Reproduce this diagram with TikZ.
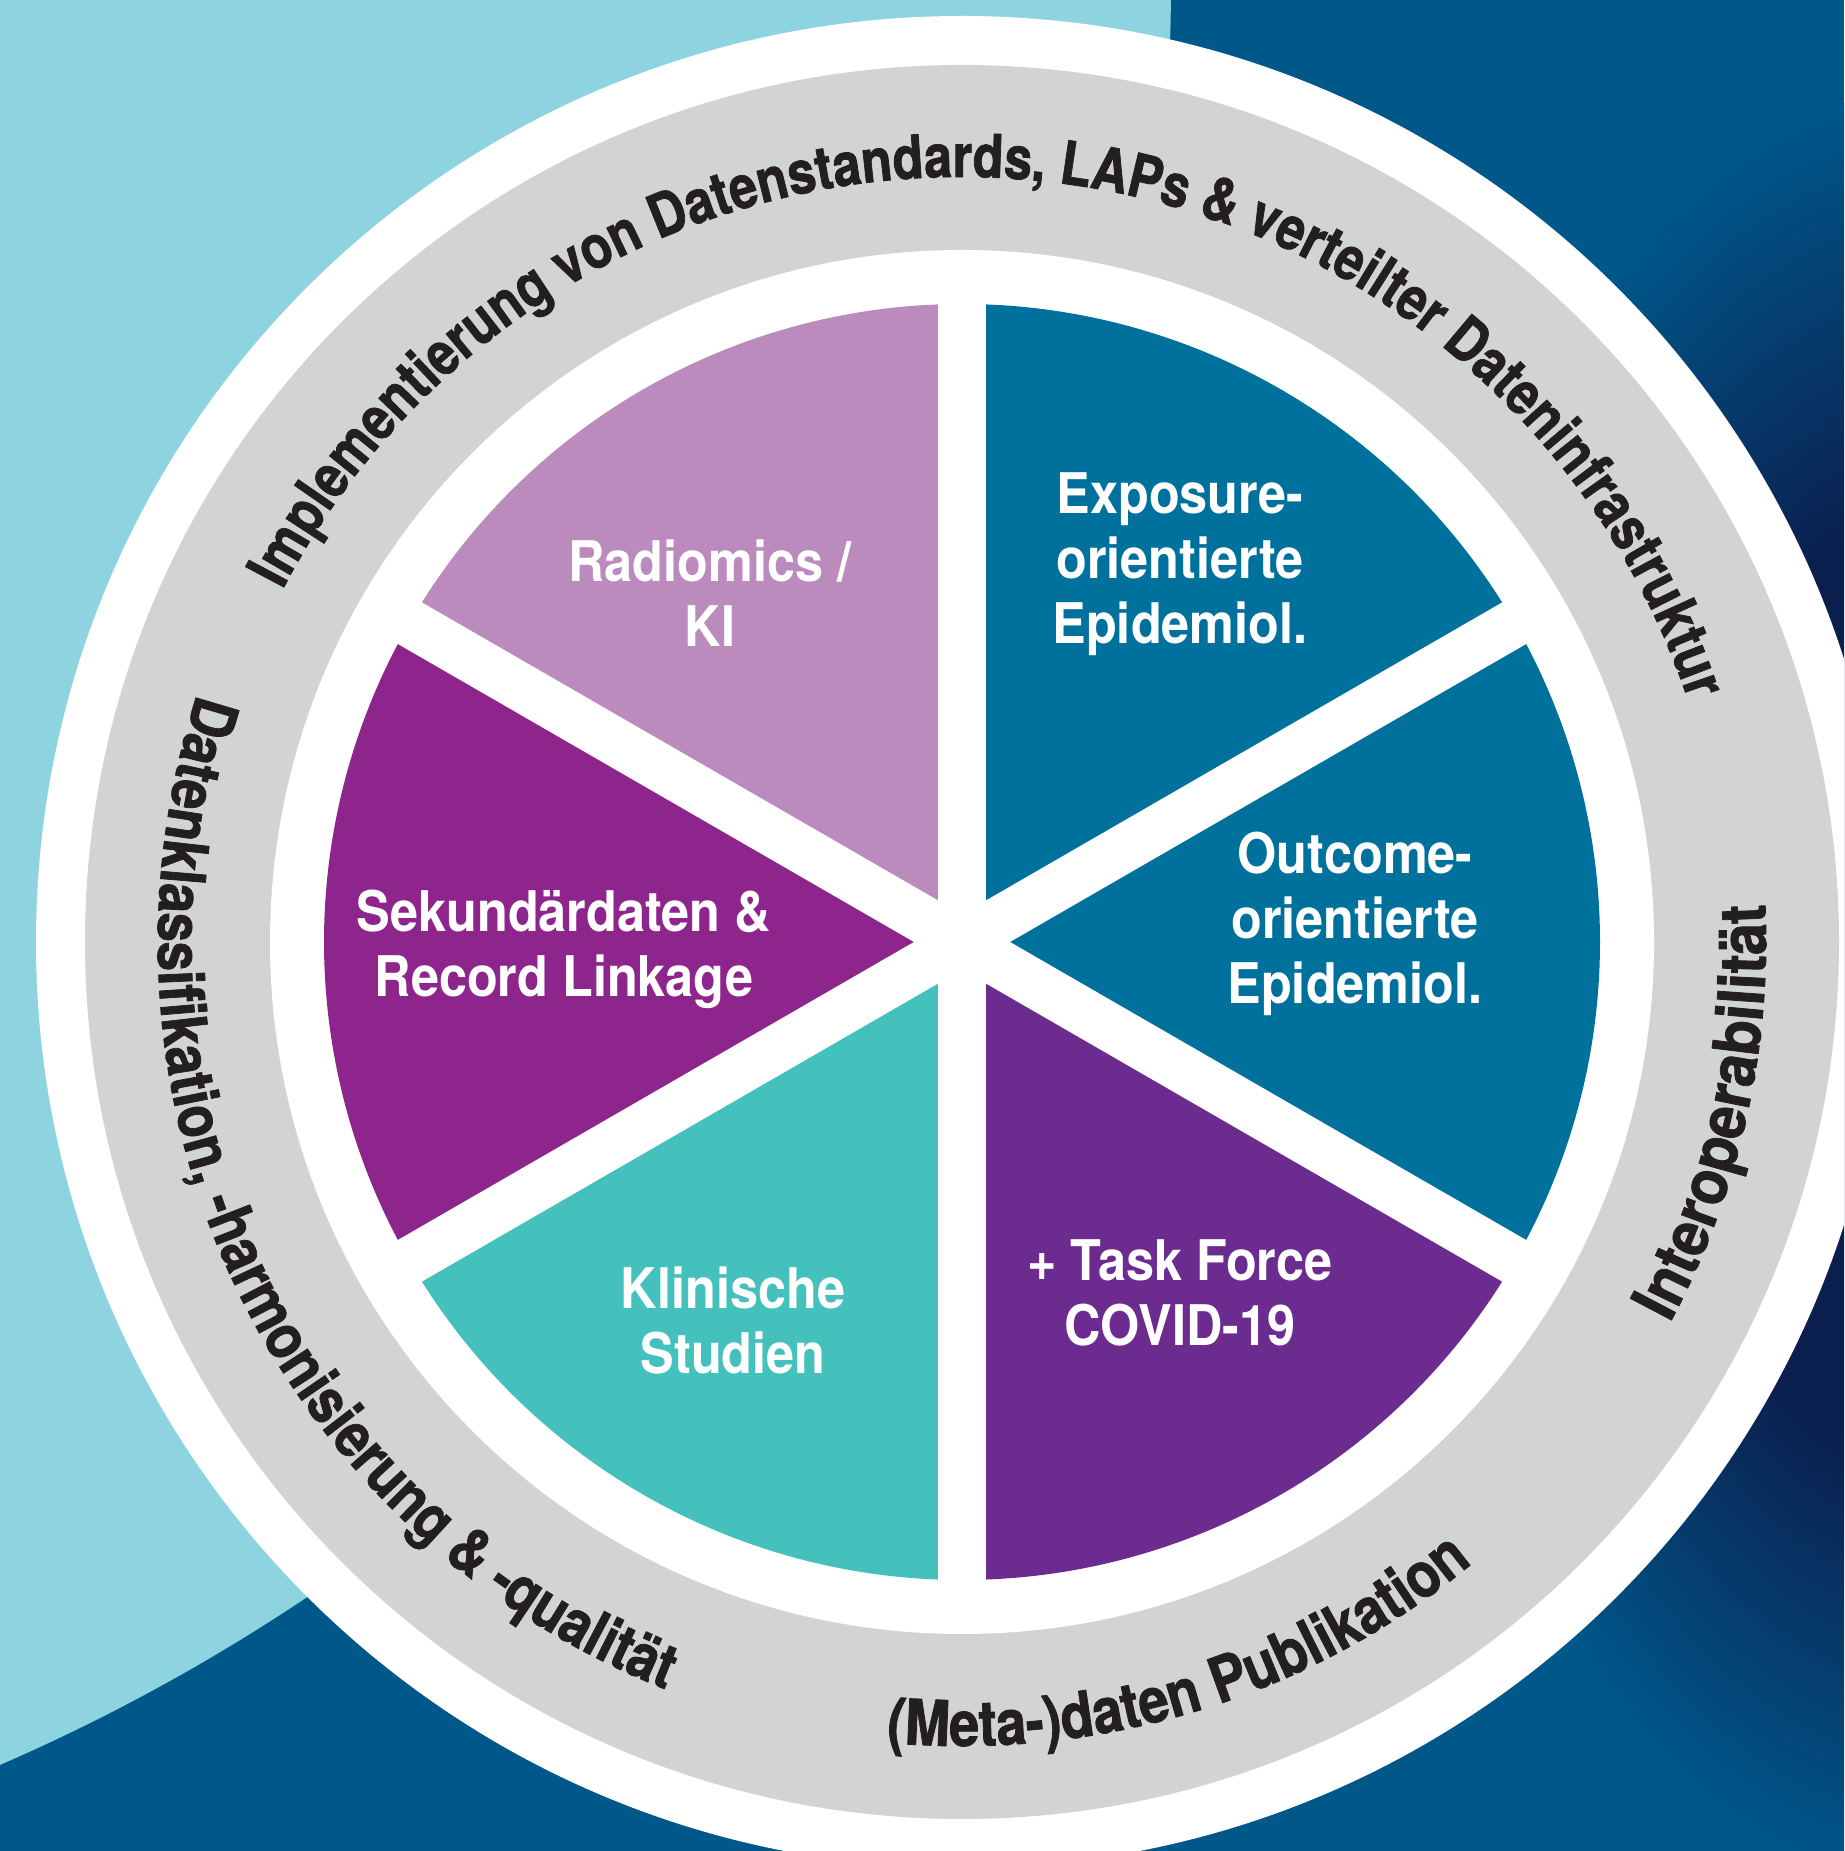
\documentclass[tikz,border=0pt]{standalone}
\usepackage{fontspec}
\usetikzlibrary{decorations.text,calc}
\newfontfamily\secfont{TeX Gyre Heros}[FakeStretch=0.9]
\newfontfamily\ringfontA{TeX Gyre Heros}[FakeStretch=0.84,FakeBold=1.2]
\newfontfamily\ringfontB{TeX Gyre Heros}[FakeStretch=0.86,FakeBold=1.2]
\newfontfamily\ringfontC{TeX Gyre Heros}[FakeStretch=0.90,FakeBold=1.2]
\definecolor{bgdark}{HTML}{00578A}
\definecolor{bgnavy}{HTML}{0B1F4E}
\definecolor{bglight}{HTML}{8DD4E0}
\definecolor{ringgray}{HTML}{D1D3D4}
\definecolor{cRadio}{HTML}{BB8BBD}
\definecolor{cEpi}{HTML}{00719C}
\definecolor{cSek}{HTML}{8E258D}
\definecolor{cKlin}{HTML}{44C0BD}
\definecolor{cTask}{HTML}{6C2B8E}
\definecolor{ringtext}{HTML}{231F20}
\pgfdeclareradialshading{navyglow}{\pgfpoint{0bp}{0bp}}{color(0bp)=(bgnavy); color(13bp)=(bgnavy); color(25bp)=(bgdark); color(50bp)=(bgdark)}
\begin{document}
\begin{tikzpicture}[x=1pt,y=1pt,
  seclabel/.style={text=white, font=\secfont\bfseries\fontsize{56}{65}\selectfont, align=center, inner sep=0pt},
  gapline/.style={white, line width=48pt},
  ringpath/.style={decorate, decoration={text along path, text align=center, text color=ringtext}},
]
\useasboundingbox (0,0) rectangle (1844,1851);
\clip (0,0) rectangle (1844,1851);
\fill[bgdark] (0,0) rectangle (1844,1851);
\shade[shading=navyglow] (1930,861) ellipse [x radius=520, y radius=900];
\fill[bglight] (-774,1871) circle [radius=1945];
\coordinate (C) at (962,909);
\fill[white] (C) circle [radius=926];
\fill[ringgray] (C) circle [radius=877];
\fill[white] (C) circle [radius=692];
% sectors
\fill[cEpi]   (C) -- ++(30:638)  arc[start angle=30,  end angle=90,  radius=638] -- cycle;
\fill[cRadio] (C) -- ++(90:638)  arc[start angle=90,  end angle=150, radius=638] -- cycle;
\fill[cSek]   (C) -- ++(150:638) arc[start angle=150, end angle=210, radius=638] -- cycle;
\fill[cKlin]  (C) -- ++(210:638) arc[start angle=210, end angle=270, radius=638] -- cycle;
\fill[cTask]  (C) -- ++(270:638) arc[start angle=270, end angle=330, radius=638] -- cycle;
\fill[cEpi]   (C) -- ++(330:638) arc[start angle=330, end angle=390, radius=638] -- cycle;
% gaps
\coordinate (g1a) at ($(C)+(90:665)$);  \coordinate (g1b) at ($(C)+(270:665)$);
\coordinate (g2a) at ($(C)+(30:665)$);  \coordinate (g2b) at ($(C)+(210:665)$);
\coordinate (g3a) at ($(C)+(150:665)$); \coordinate (g3b) at ($(C)+(330:665)$);
\draw[gapline] (g1a) -- (g1b);
\draw[gapline] (g2a) -- (g2b);
\draw[gapline] (g3a) -- (g3b);
% sector labels
\node[seclabel] (radiomics) at (710,1258) {Radiomics /\\KI};
\node[seclabel] (exposure) at (1180,1287) {Exposure-\\orientierte\\Epidemiol.};
\node[seclabel] (outcome) at (1355,927) {Outcome-\\orientierte\\Epidemiol.};
\node[seclabel] (sekundaer) at (564,902) {Sekundärdaten \&\\Record Linkage};
\node[seclabel] (klinisch) at (733,531) {Klinische\\Studien};
\node[seclabel] (taskforce) at (1180,558) {+ Task Force\\COVID-19};
% ring texts
\path[ringpath, decoration={text={|\ringfontA\bfseries\fontsize{60}{64}\selectfont|Implementierung von Datenstandards, LAPs {\&} verteilter Dateninfrastruktur}}]
  ($(C)+(175.5:765)$) arc[start angle=175.5, end angle=-4.5, radius=765];
\path[ringpath, decoration={text={|\ringfontB\bfseries\fontsize{62}{66}\selectfont|Datenklassifikation, -harmonisierung {\&} -qualität}}]
  ($(C)+(125.2:804)$) arc[start angle=125.2, end angle=285.2, radius=804];
\path[ringpath, decoration={text={|\ringfontB\bfseries\fontsize{63}{66}\selectfont|(Meta-)daten Publikation}}]
  ($(C)+(227:804)$) arc[start angle=227, end angle=347, radius=804];
\path[ringpath, decoration={text={|\ringfontC\bfseries\fontsize{64}{66}\selectfont|Interoperabilität}}]
  ($(C)+(290.2:804)$) arc[start angle=290.2, end angle=404.2, radius=804];
\end{tikzpicture}
\end{document}
